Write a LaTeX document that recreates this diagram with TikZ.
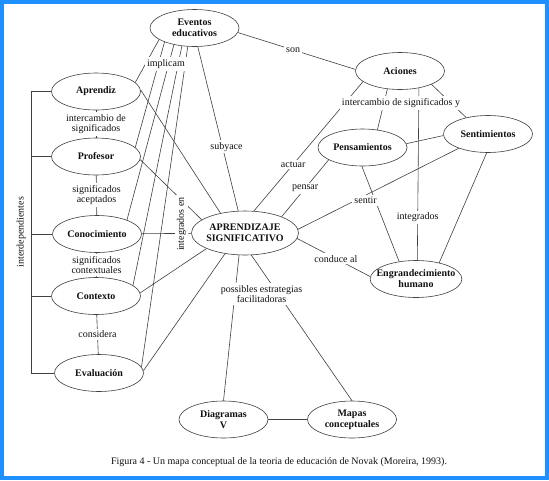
\documentclass[tikz,border=0pt]{standalone}
\usepackage{fontspec}
\setmainfont{Liberation Serif}
\usepackage{xcolor}
\definecolor{frameBlue}{HTML}{1E90FF}
\definecolor{lineGray}{HTML}{404040}
\definecolor{inkBlack}{HTML}{111111}
\usepackage{tikz}
\usetikzlibrary{
    shapes.geometric,
    positioning,
    calc
}
\tikzset{
    % Concept nodes - plain ellipse with bold text
    concept/.style={
        ellipse,
        draw=lineGray,
        line width=0.6pt,
        font=\bfseries\fontsize{10}{11}\selectfont,
        text=inkBlack,
        align=center,
        minimum width=89pt,
        minimum height=37pt,
        inner xsep=-7pt,
        inner ysep=0pt,
    },
    % Central concept - a bit larger ellipse
    core concept/.style={
        concept,
        minimum width=107pt,
        minimum height=44pt,
    },
    % Plain connecting line
    link/.style={
        draw=lineGray,
        line width=0.6pt,
    },
    % Linking words sitting on a line
    link label/.style={
        font=\fontsize{10}{10.5}\selectfont,
        text=inkBlack,
        fill=white,
        inner sep=2pt,
        align=center,
    },
}

\begin{document}
\begin{tikzpicture}[x=1pt, y=-1pt]
    \useasboundingbox (0,0) rectangle (549,480);
    \fill [white] (0,0) rectangle (549,480);
    \draw [frameBlue, line width=4pt] (2,2) rectangle (547,478);

    \node (evt) [concept] at (194.5,28) {Eventos\\educativos};
    \node (acc) [concept] at (400,71) {Aciones};
    \node (apz) [concept] at (96,91.5) {Aprendiz};
    \node (prf) [concept] at (96,156.5) {Profesor};
    \node (con) [concept] at (97,234) {Conocimiento};
    \node (ctx) [concept] at (96,296) {Contexto};
    \node (evl) [concept] at (99,373) {Evaluación};
    \node (aps) [core concept] at (245,233) {APRENDIZAJE\\SIGNIFICATIVO};
    \node (pen) [concept] at (362.5,147.5) {Pensamientos};
    \node (sen) [concept] at (488,134) {Sentimientos};
    \node (eng) [concept] at (416,279) {Engrandecimiento\\humano};
    \node (dia) [concept] at (223.5,419.5) {Diagramas\\V};
    \node (map) [concept] at (352,419.5) {Mapas\\conceptuales};
    \coordinate (brk) at (31,0);

    \draw [link] (apz.west) -- (apz.west -| brk) -- node [link label, fill=none, rotate=90, anchor=south, inner sep=5pt] {interdependientes} (evl.west -| brk) -- (evl.west);
    \foreach \n in {prf, con, ctx}
        \draw [link] (\n.west) -- (\n.west -| brk);

    \draw [link] (apz) -- node [link label] {intercambio de\\significados} (prf);
    \draw [link] (prf) -- node [link label] {significados\\aceptados} (con);
    \draw [link] (con) -- node [link label] {significados\\contextuales} (ctx);
    \draw [link] (ctx) -- node [link label] {considera} (evl);

    \draw [link] (evt.198) -- (apz.13);
    \draw [link] (evt.205) -- (prf.13);
    \draw [link] (evt.219) -- (con.25);
    \draw [link] (evt.235) -- (ctx.16);
    \draw [link] (evt.250) -- (evl.8);

    \draw [link] (apz.2) -- (aps.141);
    \draw [link] (prf.356) -- (aps.163);
    \draw [link] (con) -- (aps);
    \draw [link] (ctx.4) -- (aps.202);
    \draw [link] (evl.3) -- (aps.226);

    \draw [link] (acc.235) -- (pen.50);
    \draw [link] (acc.337) -- (sen.143);
    \draw [link] (pen.5) -- (sen.182);
    \draw [link] (pen.268) -- (eng.134);
    \draw [link] (sen.266) -- (eng.35);
    \draw [link] (acc.318) -- node [link label, pos=0.75] {integrados} (eng.86);

    \draw [link] (evt.280) -- node [link label, pos=0.61, xshift=4pt] {subyace} (aps.107);
    \draw [link] (evt.354) -- node [link label, pos=0.47] {son} (acc.178);
    \draw [link] (acc.196) -- node [link label, pos=0.64] {actuar} (aps.68);
    \draw [link] (pen.200) -- node [link label, pos=0.5] {pensar} (aps.24);
    \draw [link] (sen.206) -- node [link label, pos=0.58, yshift=-5pt] {sentir} (aps.4);
    \draw [link] (aps.354) -- node [link label, pos=0.53] {conduce al} (eng.177);

    \draw [link] (aps.255) -- (dia.north);
    \draw [link] (aps.286) -- (map.north);
    \draw [link] (dia) -- (map);

    \node (implicam) [link label] at (166,64) {implicam};
    \node (integrated) [link label, rotate=90] at (181.5,224) {integrados en};
    \node (exchange) [link label] at (401,103) {intercambio de significados y};
    \node (strategies) [link label] at (261.5,294) {possibles estrategias\\facilitadoras};

    \node (caption) [font=\fontsize{10}{12}\selectfont, text=inkBlack] at (279,462) {Figura 4 - Un mapa conceptual de la teoria de educación de Novak (Moreira, 1993).};
\end{tikzpicture}
\end{document}
